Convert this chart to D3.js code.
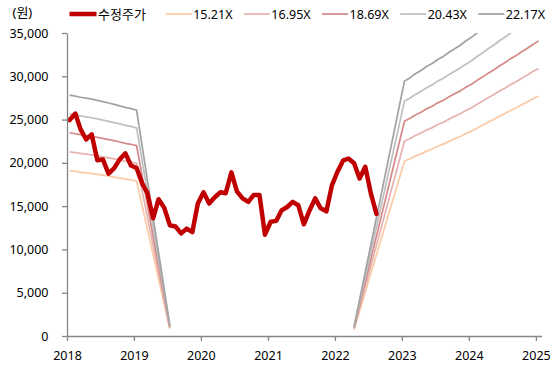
<!DOCTYPE html>
<html><head><meta charset="utf-8">
<script src="https://cdn.jsdelivr.net/npm/d3@7"></script>
<style>
html,body{margin:0;padding:0;background:#fff;}
svg{display:block;}
text{font-family:"Noto Sans","Noto Sans CJK KR",sans-serif;fill:#000;}
</style></head>
<body><svg id="c" width="557" height="369"></svg>
<script>
// ---- data ----
const unitLabel = "(원)";
const priceName = "수정주가";
const priceMonths = [
 "2018-01","2018-02","2018-03","2018-04","2018-05","2018-06","2018-07","2018-08","2018-09","2018-10","2018-11","2018-12",
 "2019-01","2019-02","2019-03","2019-04","2019-05","2019-06","2019-07","2019-08","2019-09","2019-10","2019-11","2019-12",
 "2020-01","2020-02","2020-03","2020-04","2020-05","2020-06","2020-07","2020-08","2020-09","2020-10","2020-11","2020-12",
 "2021-01","2021-02","2021-03","2021-04","2021-05","2021-06","2021-07","2021-08","2021-09","2021-10","2021-11","2021-12",
 "2022-01","2022-02","2022-03","2022-04","2022-05","2022-06","2022-07","2022-08"];
const priceValues = [
 24950,25700,23900,22700,23300,20300,20400,18750,19400,20400,21100,19700,
 19400,17600,16500,13600,15800,14800,12800,12650,11850,12400,12000,15300,
 16600,15300,16000,16600,16500,18900,16700,15900,15500,16300,16300,11700,
 13200,13300,14500,14900,15500,15100,12900,14500,15900,14750,14400,17400,
 19000,20300,20500,19950,18200,19550,16500,14100];

const bandNames = ["15.21X","16.95X","18.69X","20.43X","22.17X"];
const bandMultiples = [15.21,16.95,18.69,20.43,22.17];

const epsLeftMonths = ["2018-01","2018-02","2018-03","2018-04","2018-05","2018-06","2018-07","2018-08","2018-09","2018-10","2018-11","2018-12","2019-01","2019-07"];
const epsLeftValues = [1255,1250,1244,1239,1234,1228,1221,1214,1207,1199,1191,1185,1177,55];

const epsRightMonths = ["2022-04",
 "2023-01","2023-02","2023-03","2023-04","2023-05","2023-06","2023-07","2023-08","2023-09","2023-10","2023-11","2023-12",
 "2024-01","2024-02","2024-03","2024-04","2024-05","2024-06","2024-07","2024-08","2024-09","2024-10","2024-11","2024-12",
 "2025-01"];
const epsRightValues = [50,
 1329,1346,1366,1383,1404,1420,1441,1457,1478,1497,1515,1537,
 1556,1580,1600,1624,1644,1669,1689,1713,1733,1757,1778,1802,
 1823];

const yTicks = [0,5000,10000,15000,20000,25000,30000,35000];
const xTickYears = ["2018","2019","2020","2021","2022","2023","2024","2025"];

// ---- styles ----
const priceColor = "#C00000";
const bandColors = ["#FBCBA7","#E7B3B1","#D48B89","#C0C0C0","#A3A3A3"];
const axisColor = "#868686";

// ---- layout ----
const svg = d3.select("#c");
const X0 = 67, X1 = 541.6, Y0 = 336, Y1 = 33;
const parseMonth = s => { const [y,m] = s.split("-").map(Number); return new Date(y, m-1, 15, 12); };
const x = d3.scaleTime().domain([new Date(2018,0,1), new Date(2025,1,1)]).range([X0, X1]);
const y = d3.scaleLinear().domain([0,35000]).range([Y0, Y1]);

svg.append("defs").append("clipPath").attr("id","plot")
  .append("rect").attr("x",X0).attr("y",Y1).attr("width",X1-X0).attr("height",Y0-Y1);

const line = d3.line().x(d=>x(d[0])).y(d=>y(d[1]));
const g = svg.append("g").attr("clip-path","url(#plot)");

bandMultiples.forEach((k,i)=>{
  const left = epsLeftMonths.map((m,j)=>[parseMonth(m), epsLeftValues[j]*k]);
  const right = epsRightMonths.map((m,j)=>[parseMonth(m), epsRightValues[j]*k]);
  [left,right].forEach(seg=>{
    g.append("path").attr("d",line(seg)).attr("fill","none")
      .attr("stroke",bandColors[i]).attr("stroke-width",1.75).attr("stroke-linejoin","round");
  });
});

const priceData = priceMonths.map((m,j)=>[parseMonth(m), priceValues[j]]);
g.append("path").attr("d",line(priceData)).attr("fill","none")
  .attr("stroke",priceColor).attr("stroke-width",4.5).attr("stroke-linejoin","round").attr("stroke-linecap","round");

// axes
const yAxis = d3.axisLeft(y).tickValues(yTicks).tickFormat(d3.format(",")).tickSize(5).tickSizeOuter(0).tickPadding(13.5);
const ya = svg.append("g").attr("transform",`translate(${X0},0)`).call(yAxis);
const xAxis = d3.axisBottom(x).tickValues(xTickYears.map(s=>new Date(+s,0,1))).tickFormat(d3.timeFormat("%Y")).tickSize(5).tickSizeOuter(0).tickPadding(10);
const xa = svg.append("g").attr("transform",`translate(0,${Y0})`).call(xAxis);
[ya,xa].forEach(a=>{
  a.selectAll("path,line").attr("stroke",axisColor).attr("stroke-width",1.3);
  a.selectAll("text").attr("font-size",12.5).attr("fill","#000").attr("font-family",'"Noto Sans","Noto Sans CJK KR",sans-serif');
});

// legend
svg.append("text").attr("x",12.5).attr("y",17).attr("font-size",13).text(unitLabel);
const LY = 14;
svg.append("line").attr("x1",69.5).attr("x2",96.5).attr("y1",LY).attr("y2",LY).attr("stroke",priceColor).attr("stroke-width",4.5);
svg.append("text").attr("x",98).attr("y",LY+4.5).attr("font-size",13).text(priceName);
bandNames.forEach((n,i)=>{
  const lx = 165.7 + i*78.15;
  svg.append("line").attr("x1",lx).attr("x2",lx+26).attr("y1",LY).attr("y2",LY).attr("stroke",bandColors[i]).attr("stroke-width",1.75);
  svg.append("text").attr("x",lx+27.5).attr("y",LY+4.5).attr("font-size",12.5).text(n);
});
</script></body></html>
